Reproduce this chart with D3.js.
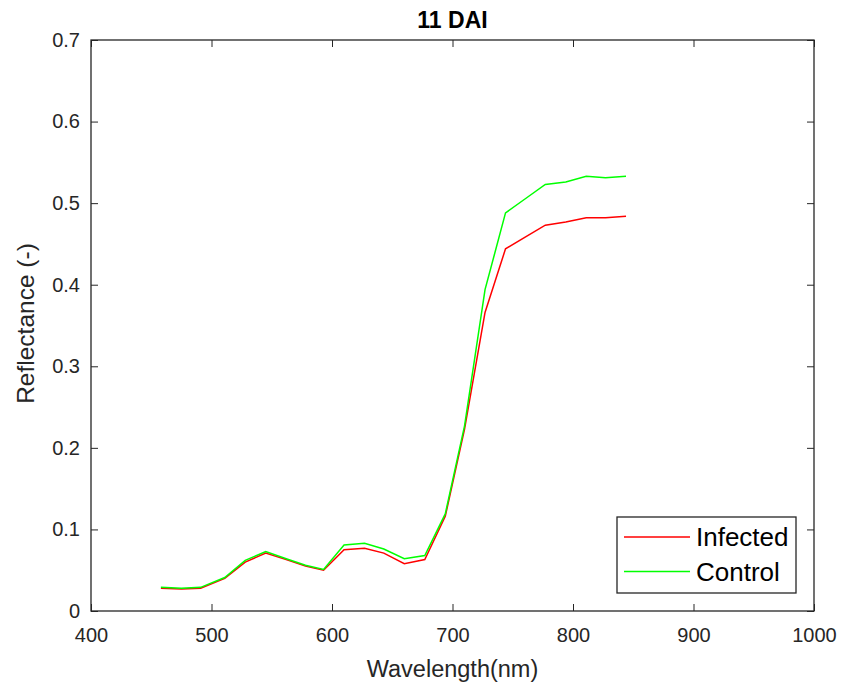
<!DOCTYPE html>
<html>
<head>
<meta charset="utf-8">
<script src="https://cdn.jsdelivr.net/npm/d3@7"></script>
<style>
  body { margin: 0; background: #fff; }
  svg text { font-family: "Liberation Sans", Arial, sans-serif; fill: #262626; }
</style>
</head>
<body>
<svg id="chart" width="844" height="686"></svg>
<script>
// wavelengths (nm) and mean reflectance for each group
const wavelengths = [458, 475, 491, 511, 528, 545, 562, 578, 593, 610, 627, 643,
  660, 677, 694, 710, 727, 744, 761, 777, 794, 811, 827, 844];
const infected = [0.028, 0.027, 0.028, 0.040, 0.060, 0.071, 0.063, 0.055, 0.050, 0.075, 0.077, 0.071,
  0.058, 0.063, 0.116, 0.223, 0.366, 0.444, 0.459, 0.473, 0.477, 0.482, 0.482, 0.484];
const control = [0.029, 0.028, 0.029, 0.041, 0.062, 0.073, 0.064, 0.056, 0.051, 0.081, 0.083, 0.076,
  0.064, 0.068, 0.119, 0.227, 0.394, 0.488, 0.506, 0.523, 0.526, 0.533, 0.531, 0.533];
const seriesNames = ["Infected", "Control"];
const seriesColors = ["#ff0000", "#00ff00"];
const xTicks = [400, 500, 600, 700, 800, 900, 1000];
const yTicks = [0, 0.1, 0.2, 0.3, 0.4, 0.5, 0.6, 0.7];

const svg = d3.select("#chart");
const margin = { top: 40, right: 30, bottom: 75, left: 91 };
const innerW = 844 - margin.left - margin.right;
const innerH = 686 - margin.top - margin.bottom;

const g = svg.append("g")
  .attr("transform", `translate(${margin.left},${margin.top})`);

const x = d3.scaleLinear().domain([400, 1000]).range([0, innerW]);
const y = d3.scaleLinear().domain([0, 0.7]).range([innerH, 0]);

const tickLen = 7;
const fmtY = d => d === 0 ? "0" : d3.format(".1f")(d);

// axes, ticks point inward like matlab
const styleAxis = sel => {
  sel.select(".domain").remove();
  sel.selectAll(".tick line").attr("stroke", "#262626");
};

g.append("g")
  .attr("transform", `translate(0,${innerH})`)
  .call(d3.axisBottom(x).tickValues(xTicks).tickSize(-tickLen).tickPadding(tickLen + 10).tickFormat(d3.format("d")))
  .call(styleAxis)
  .call(a => a.selectAll("text").attr("font-size", 20));

g.append("g")
  .call(d3.axisTop(x).tickValues(xTicks).tickSize(-tickLen).tickFormat(""))
  .call(styleAxis);

g.append("g")
  .call(d3.axisLeft(y).tickValues(yTicks).tickSize(-tickLen).tickPadding(tickLen + 4).tickFormat(fmtY))
  .call(styleAxis)
  .call(a => a.selectAll("text").attr("font-size", 20));

g.append("g")
  .attr("transform", `translate(${innerW},0)`)
  .call(d3.axisRight(y).tickValues(yTicks).tickSize(-tickLen).tickFormat(""))
  .call(styleAxis);

g.append("rect")
  .attr("width", innerW).attr("height", innerH)
  .attr("fill", "none").attr("stroke", "#262626").attr("stroke-width", 1.3);

// lines
const series = [infected, control].map((vals, i) => ({
  name: seriesNames[i],
  color: seriesColors[i],
  values: wavelengths.map((w, j) => ({ w, v: vals[j] }))
}));

const line = d3.line().x(d => x(d.w)).y(d => y(d.v));

g.selectAll(".series")
  .data(series)
  .join("path")
  .attr("class", "series")
  .attr("d", d => line(d.values))
  .attr("fill", "none")
  .attr("stroke", d => d.color)
  .attr("stroke-width", 1.5);

// title and labels
svg.append("text")
  .attr("x", margin.left + innerW / 2).attr("y", 28)
  .attr("text-anchor", "middle")
  .attr("font-size", 23).attr("font-weight", "bold")
  .style("fill", "#000")
  .text("11 DAI");

svg.append("text")
  .attr("x", margin.left + innerW / 2).attr("y", 677)
  .attr("text-anchor", "middle")
  .attr("font-size", 23.5)
  .text("Wavelength(nm)");

svg.append("text")
  .attr("transform", `translate(34,${margin.top + innerH / 2 - 2}) rotate(-90)`)
  .attr("text-anchor", "middle")
  .attr("font-size", 24.5)
  .text("Reflectance (-)");

// legend
const legend = svg.append("g").attr("transform", "translate(617,517)");
legend.append("rect")
  .attr("width", 179).attr("height", 76)
  .attr("fill", "#fff").attr("stroke", "#262626").attr("stroke-width", 1.3);

const items = legend.selectAll(".item")
  .data(series)
  .join("g")
  .attr("class", "item")
  .attr("transform", (d, i) => `translate(0,${20 + i * 34.5})`);

items.append("line")
  .attr("x1", 7).attr("x2", 73)
  .attr("stroke", d => d.color).attr("stroke-width", 1.5);

items.append("text")
  .attr("x", 79).attr("dy", "0.36em")
  .attr("font-size", 26)
  .style("fill", "#000")
  .text(d => d.name);
</script>
</body>
</html>
